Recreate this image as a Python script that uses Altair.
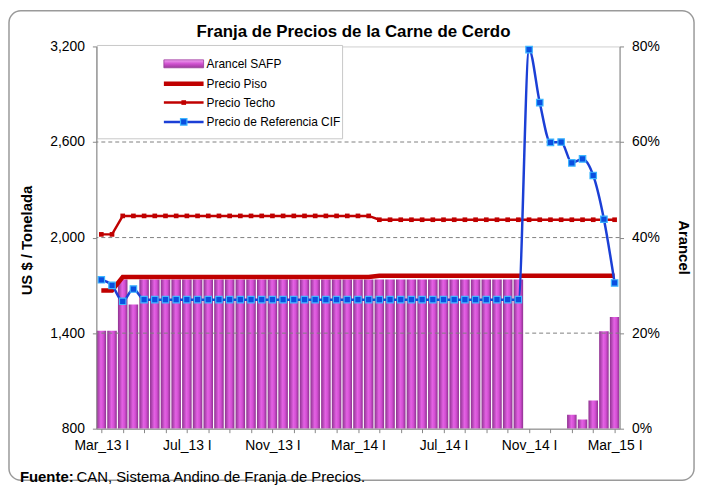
import json
import altair as alt
import pandas as pd

# ---------------- data ----------------
tick_labels = ["Mar_13 I", "Jul_13 I", "Nov_13 I", "Mar_14 I", "Jul_14 I", "Nov_14 I", "Mar_15 I"]
month_names = ["Ene", "Feb", "Mar", "Abr", "May", "Jun", "Jul", "Ago", "Sep", "Oct", "Nov", "Dic"]
periods = []
for k in range(49):
    m = 2 + k // 2
    periods.append(f"{month_names[m % 12]}_{13 + m // 12} {'I' if k % 2 == 0 else 'II'}")

# Arancel SAFP (%)
arancel = [20.5, 20.5, 31.2, 26.0, 31.2, 31.2, 31.2, 31.2, 31.2, 31.2,
           31.2, 31.2, 31.2, 31.2, 31.2, 31.2, 31.2, 31.2, 31.2, 31.2,
           31.2, 31.2, 31.2, 31.2, 31.2, 31.2, 31.2, 31.2, 31.2, 31.2,
           31.2, 31.2, 31.2, 31.2, 31.2, 31.2, 31.2, 31.2, 31.2, 31.2,
           0.0, 0.0, 0.0, 0.0, 2.9, 1.9, 5.9, 20.4, 23.4]
# Precio Piso (US$/t)
piso = [1668, 1668, 1752, 1752, 1752, 1752, 1752, 1752, 1752, 1752,
        1752, 1752, 1752, 1752, 1752, 1752, 1752, 1752, 1752, 1752,
        1752, 1752, 1752, 1752, 1752, 1752, 1760, 1760, 1760, 1760,
        1760, 1760, 1760, 1760, 1760, 1760, 1760, 1760, 1760, 1760,
        1760, 1760, 1760, 1760, 1760, 1760, 1760, 1760, 1760]
# Precio Techo (US$/t)
techo = [2020, 2020, 2136, 2136, 2136, 2136, 2136, 2136, 2136, 2136,
         2136, 2136, 2136, 2136, 2136, 2136, 2136, 2136, 2136, 2136,
         2136, 2136, 2136, 2136, 2136, 2136, 2112, 2112, 2112, 2112,
         2112, 2112, 2112, 2112, 2112, 2112, 2112, 2112, 2112, 2112,
         2112, 2112, 2112, 2112, 2112, 2112, 2112, 2112, 2112]
# Precio de Referencia CIF (US$/t)
cif = [1735, 1700, 1600, 1677, 1610, 1610, 1610, 1610, 1610, 1610,
       1610, 1610, 1610, 1610, 1610, 1610, 1610, 1610, 1610, 1610,
       1610, 1610, 1610, 1610, 1610, 1610, 1610, 1610, 1610, 1610,
       1610, 1610, 1610, 1610, 1610, 1610, 1610, 1610, 1610, 1610,
       3180, 2847, 2598, 2600, 2469, 2494, 2390, 2115, 1715]

left_ticks = [800, 1400, 2000, 2600, 3200]
grid_values = [1400, 2000, 2600]
right_ticks = [0, 20, 40, 60, 80]
legend_labels = ["Arancel SAFP", "Precio Piso", "Precio Techo", "Precio de Referencia CIF"]
title_text = "Franja de Precios de la Carne de Cerdo"
source_bold = "Fuente:"
source_text = "CAN, Sistema Andino de Franja de Precios."

df = pd.DataFrame({"i": list(range(49)), "periodo": periods, "arancel": arancel,
                   "piso": piso, "techo": techo, "cif": cif})
one = pd.DataFrame({"k": [0]})

FONT = "Liberation Sans, Arial, sans-serif"
W, H = 527, 385
RED = "#C00000"
BLUE = "#1B3FD6"

label_expr = "datum.value % 8 == 0 ? " + json.dumps(tick_labels) + "[datum.value / 8] : ''"
x_enc = alt.X("i:Q", scale=alt.Scale(domain=[0, 48], nice=False, zero=False),
              axis=alt.Axis(values=list(range(0, 49, 2)), labelExpr=label_expr, title=None,
                            labelFont=FONT, labelFontSize=14, labelColor="#000000",
                            domainColor="#868686", tickColor="#868686", tickSize=4,
                            labelPadding=13, labelBaseline="middle", grid=False,
                            labelOverlap=False, zindex=1))

left_scale = alt.Scale(domain=[800, 3200], nice=False, zero=False)
right_scale = alt.Scale(domain=[0, 80], nice=False, zero=True)

left_axis = alt.Axis(orient="left", values=left_ticks, format=",.0f",
                     title="US $ / Tonelada", titleFont=FONT, titleFontSize=15,
                     titleFontWeight="bold", titleX=-62, titleY=195, titleColor="#000000",
                     labelFont=FONT, labelFontSize=14, labelColor="#000000",
                     domainColor="#868686", tickColor="#868686", tickSize=4,
                     labelPadding=8, grid=False, zindex=1)

bar_grad = alt.LinearGradient(
    gradient="linear",
    stops=[alt.GradientStop(color="#8E3290", offset=0),
           alt.GradientStop(color="#E462E4", offset=0.45),
           alt.GradientStop(color="#D44FD4", offset=0.7),
           alt.GradientStop(color="#8E3290", offset=1)],
    x1=0, x2=1, y1=0, y2=0)

bars = alt.Chart(df).mark_bar(size=9.6, fill=bar_grad, clip=True).encode(
    x=x_enc,
    y=alt.Y("arancel:Q", scale=right_scale,
            axis=alt.Axis(orient="right", values=right_ticks, labelExpr="datum.value + '%'",
                          title="Arancel", titleFont=FONT, titleFontSize=15, titleFontWeight="bold",
                          titleAngle=90, titleX=56, titleY=202, titleColor="#000000",
                          labelFont=FONT, labelFontSize=14, labelColor="#000000",
                          domainColor="#868686", tickColor="#868686", tickSize=4,
                          labelPadding=8, grid=False, zindex=1)),
)

grid = alt.Chart(pd.DataFrame({"g": grid_values})).mark_rule(
    color="#808080", strokeDash=[4, 3], strokeWidth=1).encode(
    y=alt.Y("g:Q", scale=left_scale, axis=left_axis))

piso_line = alt.Chart(df).mark_line(color=RED, strokeWidth=4.5).encode(
    x=x_enc, y=alt.Y("piso:Q", scale=left_scale, axis=left_axis))

techo_line = alt.Chart(df).mark_line(
    color=RED, strokeWidth=2.5,
    point=alt.OverlayMarkDef(shape="square", size=22, filled=True, color=RED)).encode(
    x=x_enc, y=alt.Y("techo:Q", scale=left_scale, axis=left_axis))

cif_line = alt.Chart(df).mark_line(
    color=BLUE, strokeWidth=2.5, interpolate="monotone",
    point=alt.OverlayMarkDef(shape="square", size=42, filled=True, fill="#0A4FE0",
                             stroke="#3DB6FF", strokeWidth=1.2)).encode(
    x=x_enc, y=alt.Y("cif:Q", scale=left_scale, axis=left_axis))

left_group = alt.layer(grid, piso_line, techo_line, cif_line)
main = alt.layer(bars, left_group).resolve_scale(y="independent")

# ---- decorations (legend, title, source, frame) ----
frame = alt.Chart(one).mark_rect(fill="transparent", stroke="#9A9A9A", strokeWidth=1.5,
                                 cornerRadius=12).encode(
    x=alt.value(-88), x2=alt.value(602), y=alt.value(-36), y2=alt.value(437))

legend_box = alt.Chart(one).mark_rect(fill="white", stroke="#C8C8C8", strokeWidth=1).encode(
    x=alt.value(1), x2=alt.value(248), y=alt.value(-1), y2=alt.value(93))

sw_grad = alt.LinearGradient(
    gradient="linear",
    stops=[alt.GradientStop(color="#F2A6F2", offset=0),
           alt.GradientStop(color="#D050D0", offset=0.5),
           alt.GradientStop(color="#9A3A9A", offset=1)],
    x1=0, x2=0, y1=0, y2=1)
leg_rows = [17.5, 37.5, 56.5, 76]
lx1, lx2, lxm, ltx = 68, 108, 88, 111

leg = [
    alt.Chart(one).mark_rect(fill=sw_grad, stroke="#9A3A9A", strokeWidth=0.8).encode(
        x=alt.value(lx1), x2=alt.value(lx2), y=alt.value(leg_rows[0] - 4), y2=alt.value(leg_rows[0] + 4)),
    alt.Chart(one).mark_rule(color=RED, strokeWidth=4.5).encode(
        x=alt.value(lx1), x2=alt.value(lx2), y=alt.value(leg_rows[1])),
    alt.Chart(one).mark_rule(color=RED, strokeWidth=2.5).encode(
        x=alt.value(lx1), x2=alt.value(lx2), y=alt.value(leg_rows[2])),
    alt.Chart(one).mark_square(size=22, color=RED, opacity=1).encode(
        x=alt.value(lxm), y=alt.value(leg_rows[2])),
    alt.Chart(one).mark_rule(color=BLUE, strokeWidth=2.5).encode(
        x=alt.value(lx1), x2=alt.value(lx2), y=alt.value(leg_rows[3])),
    alt.Chart(one).mark_square(size=42, fill="#0A4FE0", stroke="#3DB6FF", strokeWidth=1.2,
                               opacity=1).encode(
        x=alt.value(lxm), y=alt.value(leg_rows[3])),
]
for lab, ry in zip(legend_labels, leg_rows):
    leg.append(alt.Chart(one).mark_text(text=lab, font=FONT, fontSize=12, align="left",
                                        baseline="middle", color="#000000").encode(
        x=alt.value(ltx), y=alt.value(ry)))

title = alt.Chart(one).mark_text(text=title_text, font=FONT, fontSize=17, fontWeight="bold",
                                 align="center", baseline="middle", color="#000000").encode(
    x=alt.value(259), y=alt.value(-15))
src1 = alt.Chart(one).mark_text(text=source_bold, font=FONT, fontSize=15, fontWeight="bold",
                                align="left", baseline="middle", color="#000000").encode(
    x=alt.value(-77), y=alt.value(434))
src2 = alt.Chart(one).mark_text(text=source_text, font=FONT, fontSize=15,
                                align="left", baseline="middle", color="#000000").encode(
    x=alt.value(-20), y=alt.value(434))

chart = alt.layer(frame, main, legend_box, *leg, title, src1, src2).properties(
    width=W, height=H,
    autosize=alt.AutoSizeParams(type="none"),
    padding={"left": 89, "top": 37, "right": 80, "bottom": 56},
).configure_view(stroke="#D0D0D0", strokeWidth=1)

chart.save("out.html", embed_options={"renderer": "svg", "actions": False})
